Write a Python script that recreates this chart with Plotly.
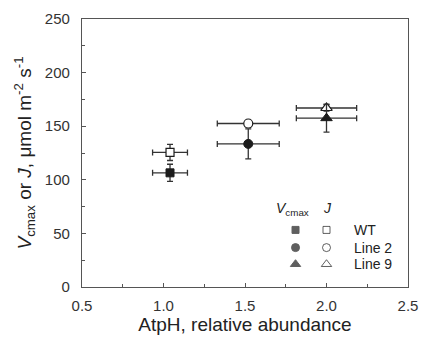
import plotly.graph_objects as go

lines = ["WT", "Line 2", "Line 9"]
atph = [1.04, 1.52, 2.00]
atph_err = [0.107, 0.19, 0.185]
vcmax = [106.5, 133.5, 157.5]
vcmax_err = [8, 14, 13]
jmax = [125.5, 152.5, 167.0]
jmax_err = [7.5, 2, 3]
symbols_filled = ["square", "circle", "triangle-up"]
symbols_open = ["square-open", "circle-open", "triangle-up-open"]
msizes = [8, 9, 10]

dark = "#1c1c1c"
errc = "#333333"
fig = go.Figure()

for i in range(3):
    fig.add_trace(go.Scatter(
        x=[atph[i]], y=[jmax[i]], mode="markers",
        marker=dict(symbol=symbols_filled[i], size=msizes[i], color="white",
                    line=dict(color=dark, width=1.2)),
        error_x=dict(type="data", array=[atph_err[i]], color=errc, thickness=1.3, width=3),
        error_y=dict(type="data", array=[jmax_err[i]], color=errc, thickness=1.3, width=3),
        showlegend=False))
    fig.add_trace(go.Scatter(
        x=[atph[i]], y=[vcmax[i]], mode="markers",
        marker=dict(symbol=symbols_filled[i], size=msizes[i], color=dark,
                    line=dict(color=dark, width=1)),
        error_x=dict(type="data", array=[atph_err[i]], color=errc, thickness=1.3, width=3),
        error_y=dict(type="data", array=[vcmax_err[i]], color=errc, thickness=1.3, width=3),
        showlegend=False))

# legend markers on an overlay axis (0-1 across the plot area)
leg_y = [0.213, 0.147, 0.085]
fig.add_trace(go.Scatter(
    x=[0.655] * 3, y=leg_y, mode="markers", xaxis="x2", yaxis="y2",
    marker=dict(symbol=symbols_filled, size=[7, 8, 9], color=dark, line=dict(color=dark, width=1)),
    showlegend=False, hoverinfo="skip"))
fig.add_trace(go.Scatter(
    x=[0.75] * 3, y=leg_y, mode="markers", xaxis="x2", yaxis="y2",
    marker=dict(symbol=symbols_open, size=[7, 8, 9], color=dark, line=dict(width=1)),
    showlegend=False, hoverinfo="skip"))

annotations = []
for name, yy in zip(lines, leg_y):
    annotations.append(dict(x=0.827, y=yy, xref="x2", yref="y2", text=name, showarrow=False,
                            xanchor="left", yanchor="middle", font=dict(size=14, color="#222")))
annotations.append(dict(x=0.646, y=0.29, xref="x2", yref="y2", text="<i>V</i><sub>cmax</sub>",
                        showarrow=False, xanchor="center", yanchor="middle", font=dict(size=14, color="#222")))
annotations.append(dict(x=0.753, y=0.295, xref="x2", yref="y2", text="<i>J</i>",
                        showarrow=False, xanchor="center", yanchor="middle", font=dict(size=14, color="#222")))

axcol = "#555555"
fig.update_layout(
    width=428, height=341,
    margin=dict(l=82, r=10, t=15, b=54),
    paper_bgcolor="white", plot_bgcolor="white",
    font=dict(family="Liberation Sans, Arial, sans-serif", color="#333"),
    annotations=annotations,
    xaxis=dict(range=[0.5, 2.5], tickvals=[0.5, 1.0, 1.5, 2.0, 2.5],
               ticktext=["0.5", "1.0", "1.5", "2.0", "2.5"],
               ticks="inside", ticklen=4, tickcolor=axcol, showgrid=False, zeroline=False,
               showline=True, linecolor=axcol, linewidth=1.3, mirror=True,
               minor=dict(dtick=0.25, ticks="inside", ticklen=3, tickcolor=axcol),
               tickfont=dict(size=15, color="#333"), ticklabelstandoff=5,
               title=dict(text="AtpH, relative abundance", font=dict(size=19, color="#222"), standoff=4)),
    yaxis=dict(range=[0, 250], dtick=50, ticks="inside", ticklen=4, tickcolor=axcol,
               showgrid=False, zeroline=False, showline=True, linecolor=axcol, linewidth=1.3, mirror=True,
               minor=dict(dtick=25, ticks="inside", ticklen=3, tickcolor=axcol),
               tickfont=dict(size=15, color="#333"), ticklabelstandoff=8,
               title=dict(text="<i>V</i><sub>cmax</sub> or <i>J</i>, μmol m<sup>-2</sup> s<sup>-1</sup>",
                          font=dict(size=19, color="#222"), standoff=8)),
    xaxis2=dict(range=[0, 1], overlaying="x", visible=False),
    yaxis2=dict(range=[0, 1], overlaying="y", visible=False),
)

fig.write_html("out.html")
